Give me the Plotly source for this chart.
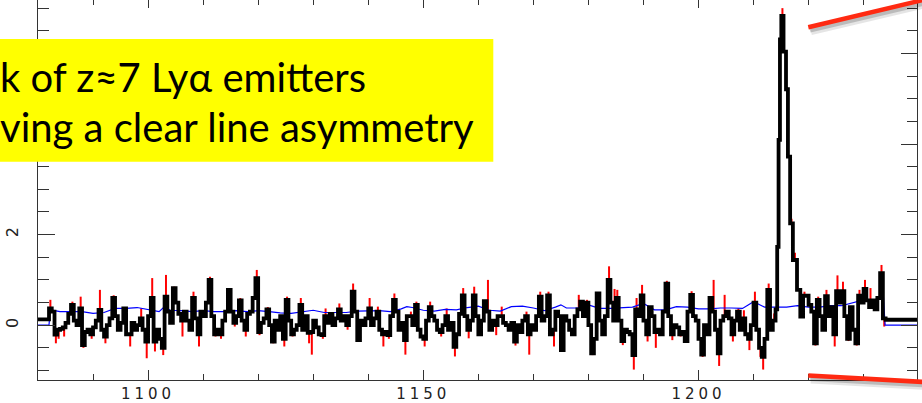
import numpy as np
import plotly.graph_objects as go

# ---------------- data ----------------
# continuum part of the stacked spectrum, 0.5 A pixels from 1080.0 to 1214.0
wave_cont = np.arange(1080.0, 1214.01, 0.5)
flux_cont = [
    0.13, 0.13, 0.13, 0.13, 0.37, 0.30, -0.21, -0.10, -0.08, -0.05,
    0.05, 0.25, 0.45, 0.10, 0.00, 0.37, -0.44, -0.15, -0.10, -0.20,
    -0.05, 0.10, 0.34, -0.10, -0.25, 0.00, 0.15, 0.60, 0.20, -0.10,
    0.05, 0.37, -0.20, -0.20, 0.05, -0.10, 0.00, 0.15, -0.10, -0.36,
    0.20, 0.60, -0.36, -0.10, -0.30, -0.50, 0.63, 0.30, 0.05, 0.82,
    0.50, 0.25, 0.10, 0.30, 0.10, -0.10, 0.60, 0.15, -0.20, 0.30,
    0.20, 0.50, 1.00, 0.20, -0.20, -0.10, -0.20, 0.10, 0.30, 0.78,
    0.30, 0.05, 0.20, 0.55, 0.10, -0.10, 0.25, 0.30, 0.60, 1.04,
    -0.15, 0.05, 0.15, 0.35, 0.00, -0.36, 0.10, -0.10, 0.20, -0.30,
    0.56, 0.10, -0.20, -0.10, 0.00, 0.45, -0.10, 0.20, -0.17, -0.15,
    0.10, -0.05, -0.20, -0.22, 0.20, 0.05, 0.25, 0.00, 0.15, 0.35,
    0.10, 0.20, 0.00, 0.20, 0.74, 0.30, -0.33, 0.10, 0.00, 0.15,
    0.37, 0.00, 0.15, 0.30, -0.10, -0.20, -0.15, -0.22, 0.20, 0.56,
    0.30, -0.10, 0.05, -0.33, 0.20, 0.20, 0.00, 0.45, -0.10, -0.25,
    -0.30, 0.10, 0.40, 0.20, 0.10, -0.10, -0.15, 0.00, 0.20, -0.10,
    0.05, -0.48, -0.20, 0.25, 0.66, 0.20, -0.10, 0.10, 0.66, 0.20,
    -0.20, 0.10, 0.53, 0.30, -0.10, 0.10, 0.00, 0.20, 0.20, 0.05,
    0.00, -0.10, 0.05, -0.36, 0.00, -0.15, 0.10, 0.20, -0.20, 0.00,
    -0.10, 0.20, 0.63, 0.10, 0.20, 0.66, -0.20, -0.10, 0.30, 0.20,
    -0.55, 0.20, 0.10, -0.10, -0.20, 0.20, 0.35, 0.52, 0.20, 0.50,
    0.00, -0.62, -0.30, 0.70, 0.10, -0.20, 0.20, 1.00, 0.50, 0.10,
    0.60, 0.10, -0.35, -0.10, -0.15, -0.20, -0.66, 0.35, 0.20, 0.66,
    0.10, -0.20, 0.40, 0.20, -0.15, -0.10, -0.20, 0.30, 0.92, 0.20,
    -0.20, 0.00, -0.05, -0.20, -0.15, -0.35, 0.30, 0.67, 0.20, 0.10,
    -0.30, -0.65, 0.00, -0.20, 0.60, 0.30, -0.10, -0.62, 0.10, 0.20,
    0.30, 0.15, -0.20, 0.10, 0.30, -0.10, 0.15, -0.20, -0.30, 0.00,
    0.50, -0.10, -0.50, -0.70, -0.30, 0.78, -0.10, 0.10, 0.35,
]
# tips of the red (unsmoothed) spikes on the same pixels
error_cont = [
    0.13, 0.13, 0.13, 0.13, 0.56, 0.30, -0.40, -0.30, -0.08, -0.25,
    0.05, 0.25, 0.52, 0.10, 0.00, 0.63, -0.50, -0.15, -0.10, -0.30,
    -0.05, 0.10, 0.78, -0.10, -0.40, 0.00, 0.15, 0.66, 0.20, -0.10,
    0.05, 0.40, -0.20, -0.47, 0.05, -0.10, 0.00, 0.37, -0.10, -0.73,
    0.20, 1.04, -0.58, -0.10, -0.30, -0.66, 1.11, 0.30, 0.05, 0.85,
    0.50, 0.25, -0.25, 0.30, 0.10, -0.10, 0.74, 0.15, -0.47, 0.30,
    0.20, 0.50, 1.07, 0.20, -0.25, -0.10, -0.30, 0.10, 0.30, 0.82,
    0.30, -0.03, 0.20, 0.60, 0.10, -0.25, 0.25, 0.30, 0.60, 1.22,
    -0.22, 0.05, 0.15, 0.40, 0.00, -0.40, 0.10, -0.10, 0.20, -0.47,
    0.63, 0.10, -0.25, -0.10, 0.00, 0.60, -0.10, 0.20, -0.40, -0.65,
    0.10, -0.05, -0.20, -0.30, 0.37, 0.05, 0.25, 0.00, 0.15, 0.48,
    0.10, 0.20, -0.10, 0.20, 0.92, 0.30, -0.36, 0.10, 0.00, 0.15,
    0.60, 0.00, 0.15, 0.41, -0.10, -0.47, -0.15, -0.30, 0.20, 0.70,
    0.30, -0.10, 0.05, -0.65, 0.20, 0.30, 0.00, 0.52, -0.10, -0.25,
    -0.47, 0.10, 0.52, 0.20, 0.10, -0.10, -0.25, 0.00, 0.37, -0.10,
    0.05, -0.69, -0.20, 0.25, 0.82, 0.20, -0.29, 0.10, 0.85, 0.20,
    -0.22, 0.10, 0.53, 1.00, -0.10, 0.10, -0.22, 0.20, 0.41, 0.05,
    0.00, -0.10, 0.05, -0.45, 0.00, -0.15, 0.10, 0.30, -0.65, 0.00,
    -0.10, 0.20, 0.74, 0.10, 0.20, 0.74, -0.20, -0.47, 0.30, 0.20,
    -0.58, 0.20, 0.10, -0.10, -0.20, 0.20, 0.67, 0.52, 0.20, 0.56,
    0.00, -0.66, -0.30, 0.70, 0.10, -0.22, 0.20, 1.30, 0.50, 0.80,
    0.78, 0.10, -0.44, -0.10, -0.15, -0.20, -0.98, 0.60, 0.20, 0.89,
    0.10, -0.36, 0.40, 0.20, -0.50, -0.10, -0.20, 0.30, 0.98, 0.20,
    -0.33, 0.00, -0.05, -0.25, -0.15, -0.35, 0.30, 0.75, 0.20, 0.10,
    -0.30, -0.70, 0.00, -0.20, 0.60, 1.00, -0.10, -0.90, 0.10, 0.67,
    0.30, 0.15, -0.36, 0.10, 0.37, -0.10, 0.33, -0.20, -0.55, 0.00,
    0.74, -0.10, -0.70, -0.98, -0.30, 0.92, -0.10, 0.26, 0.35,
]

# Lyman-alpha line
wave_line = [1214.3, 1214.55, 1214.8, 1215.05, 1215.45, 1215.9, 1216.25, 1216.65, 1217.15, 1217.9, 1218.5]
flux_line = [1.73, 4.09, 6.31, 6.83, 6.04, 5.21, 3.72, 2.25, 1.44, 0.78, 0.19]
error_line = [1.73, 4.09, 6.31, 7.00, 6.04, 5.21, 3.72, 2.35, 1.60, 0.78, 0.19]

# red side, 0.5 A pixels from 1219.0 to 1240.0
wave_tail = np.arange(1219.0, 1240.01, 0.5)
flux_tail = [
    0.65, 0.65, 0.45, 0.30, -0.40, 0.56, 0.20, -0.10, 0.64, 0.20,
    0.40, -0.20, 0.75, 0.50, 0.75, 0.20, -0.30, 0.40, -0.10, -0.40,
    0.65, 0.50, 0.80, 0.55, 0.40, 0.55, 0.35, 0.60, 1.15, 0.15,
    0.12, 0.12, 0.12, 0.12, 0.12, 0.12, 0.12, 0.12, 0.12, 0.12, 0.12, 0.12, 0.12,
]
error_tail = [
    0.74, 0.65, 0.45, 0.30, -0.45, 0.63, 0.20, -0.10, 0.78, 0.20,
    0.40, -0.47, 1.10, 0.50, 0.96, 0.20, -0.35, 0.40, -0.10, -0.45,
    0.78, 0.50, 1.00, 0.55, 0.82, 0.55, 0.35, 0.60, 1.33, -0.03,
    0.12, 0.12, 0.12, 0.12, 0.12, 0.12, 0.12, 0.12, 0.12, 0.12, 0.12, 0.12, 0.12,
]

# noise level (blue)
noise_wave = [1080, 1082, 1082.2, 1084, 1086, 1088, 1090, 1092, 1094, 1096, 1098, 1100, 1102, 1103, 1104,
              1106, 1108, 1110, 1112, 1114, 1116, 1118, 1120, 1122, 1124, 1126, 1128, 1130, 1132, 1134,
              1136, 1138, 1140, 1142, 1144, 1146, 1147, 1148, 1150, 1152, 1154, 1156, 1158, 1160, 1162,
              1164, 1166, 1168, 1170, 1172, 1174, 1175, 1176, 1178, 1180, 1182, 1184, 1186, 1188, 1190,
              1192, 1194, 1196, 1198, 1200, 1202, 1204, 1206, 1208, 1210, 1212, 1214, 1216, 1218, 1220,
              1222, 1224, 1226, 1228, 1230, 1232, 1233.6, 1233.9, 1240]
noise_flux = [0.0, 0.0, 0.34, 0.30, 0.30, 0.30, 0.26, 0.28, 0.37, 0.37, 0.39, 0.34, 0.30, 0.41, 0.33,
              0.32, 0.30, 0.32, 0.30, 0.30, 0.32, 0.30, 0.32, 0.30, 0.27, 0.26, 0.30, 0.33, 0.28, 0.28,
              0.28, 0.31, 0.32, 0.32, 0.30, 0.36, 0.41, 0.39, 0.33, 0.31, 0.35, 0.34, 0.39, 0.42, 0.33,
              0.31, 0.41, 0.42, 0.38, 0.32, 0.40, 0.45, 0.38, 0.38, 0.45, 0.37, 0.37, 0.38, 0.40, 0.48,
              0.34, 0.34, 0.41, 0.40, 0.36, 0.36, 0.38, 0.38, 0.37, 0.52, 0.40, 0.40, 0.40, 0.43, 0.40,
              0.40, 0.43, 0.43, 0.50, 0.56, 0.56, 0.63, 0.0, 0.0]

x_ticks = [1100, 1150, 1200]
x_tick_labels = ["1100", "1150", "1200"]
y_ticks = [0, 2, 4, 6]
y_tick_labels = ["0", "2", "4", "6"]
caption_lines = ["k of z≈7 Lyα emitters", "ving a clear line asymmetry"]

wave = list(wave_cont) + wave_line + list(wave_tail)
flux = flux_cont + flux_line + flux_tail
err = error_cont + error_line + error_tail

# red spikes: vertical strokes from the black step to the red tip, at pixel centres
spike_x, spike_y = [], []
for i in range(len(wave) - 1):
    xc = 0.5 * (wave[i] + wave[i + 1])
    spike_x += [xc, xc, None]
    spike_y += [flux[i], err[i], None]

# ---------------- layout helpers ----------------
W, H = 922, 403
ML, MR, MT, MB = 38, 5, 0, 23
PW = W - ML - MR
PH = H - MT - MB


def pxx(x):
    return (x - ML) / PW


def pxy(y):
    return (MT + PH - y) / PH


XR = [1080, 1239.7]
YR = [-1.21, 7.18]
AX = "#333333"

fig = go.Figure()
fig.add_trace(go.Scatter(x=spike_x, y=spike_y, mode="lines", line=dict(color="#FF0000", width=2.0),
                         connectgaps=False, hoverinfo="skip", showlegend=False))
fig.add_trace(go.Scatter(x=noise_wave, y=noise_flux, mode="lines", line=dict(color="#0000FF", width=1.2),
                         hoverinfo="skip", showlegend=False))
fig.add_trace(go.Scatter(x=wave, y=flux, mode="lines", line=dict(color="#000000", width=3.8, shape="hv"),
                         hoverinfo="skip", showlegend=False))
# invisible trace binding the mirror axes
fig.add_trace(go.Scatter(x=[1100], y=[0], xaxis="x2", yaxis="y2", mode="markers",
                         marker=dict(opacity=0), hoverinfo="skip", showlegend=False))

tickfont = dict(family="DejaVu Sans", size=15, color="#222222")
fig.update_layout(
    width=W, height=H,
    margin=dict(l=ML, r=MR, t=MT, b=MB, pad=0),
    paper_bgcolor="white", plot_bgcolor="white",
    showlegend=False,
    xaxis=dict(range=XR, showgrid=False, zeroline=False, showline=True, linecolor=AX, linewidth=1.3,
               ticks="inside", ticklen=10, tickwidth=1.3, tickcolor=AX,
               tickvals=x_ticks, ticktext=x_tick_labels, tickfont=tickfont,
               minor=dict(ticks="inside", ticklen=6, tickwidth=1.3, tickcolor=AX, dtick=10, tick0=1080,
                          showgrid=False)),
    xaxis2=dict(range=XR, overlaying="x", side="top", anchor="y2", showgrid=False, zeroline=False,
                showline=False, ticks="inside", ticklen=8, tickwidth=1.3, tickcolor=AX,
                tickvals=x_ticks, showticklabels=False,
                minor=dict(ticks="inside", ticklen=5, tickwidth=1.3, tickcolor=AX, dtick=10, tick0=1080,
                           showgrid=False)),
    yaxis=dict(range=YR, showgrid=False, zeroline=False, showline=True, linecolor=AX, linewidth=1.3,
               ticks="inside", ticklen=17, tickwidth=1.3, tickcolor=AX,
               tickvals=y_ticks, ticktext=y_tick_labels, tickangle=-90,
               tickfont=dict(family="DejaVu Sans", size=16, color="#222222"), ticklabelstandoff=12,
               minor=dict(ticks="inside", ticklen=11, tickwidth=1.3, tickcolor=AX, dtick=0.5, tick0=0,
                          showgrid=False)),
    yaxis2=dict(range=YR, overlaying="y", side="right", anchor="x2", showgrid=False, zeroline=False,
                showline=True, linecolor=AX, linewidth=1.3,
                ticks="inside", ticklen=16, tickwidth=1.3, tickcolor=AX,
                tickvals=y_ticks, showticklabels=False,
                minor=dict(ticks="inside", ticklen=10, tickwidth=1.3, tickcolor=AX, dtick=0.5, tick0=0,
                           showgrid=False)),
)

shapes = []
# yellow caption box
shapes.append(dict(type="rect", xref="paper", yref="paper", x0=pxx(-5), x1=pxx(493.3),
                   y0=pxy(161.7), y1=pxy(39), fillcolor="#FFFF00", line=dict(width=0), layer="above"))
# red zoom-connector lines with soft shadows
for (x0, y0, x1, y1) in [(808.3, 27.2, 935, -2.8), (808.3, 375.5, 935, 382.6)]:
    for (dx, dy, w, c) in [(2.5, 3.5, 9, "rgba(0,0,0,0.10)"), (1.5, 2.5, 6, "rgba(0,0,0,0.18)")]:
        shapes.append(dict(type="line", xref="paper", yref="paper",
                           x0=pxx(x0 + dx), y0=pxy(y0 + dy), x1=pxx(x1 + dx), y1=pxy(y1 + dy),
                           line=dict(color=c, width=w), layer="above"))
    shapes.append(dict(type="line", xref="paper", yref="paper",
                       x0=pxx(x0), y0=pxy(y0), x1=pxx(x1), y1=pxy(y1),
                       line=dict(color="#FF2A12", width=4.5), layer="above"))
fig.update_layout(shapes=shapes)

for text, ymid in zip(caption_lines, [77.0, 127.0]):
    fig.add_annotation(text=text, xref="paper", yref="paper", x=pxx(-2), y=pxy(ymid),
                       xanchor="left", yanchor="middle", showarrow=False,
                       font=dict(family="Lato", size=40, color="#000000"))

post = """
var gd = document.getElementById('{plot_id}');
function fixTicks(){
  document.querySelectorAll('.xtick text').forEach(function(t){ t.setAttribute('letter-spacing','4px'); });
}
fixTicks();
if (gd && gd.on) { gd.on('plotly_afterplot', fixTicks); }
setTimeout(fixTicks, 50);
"""
fig.write_html("out.html", post_script=post)
